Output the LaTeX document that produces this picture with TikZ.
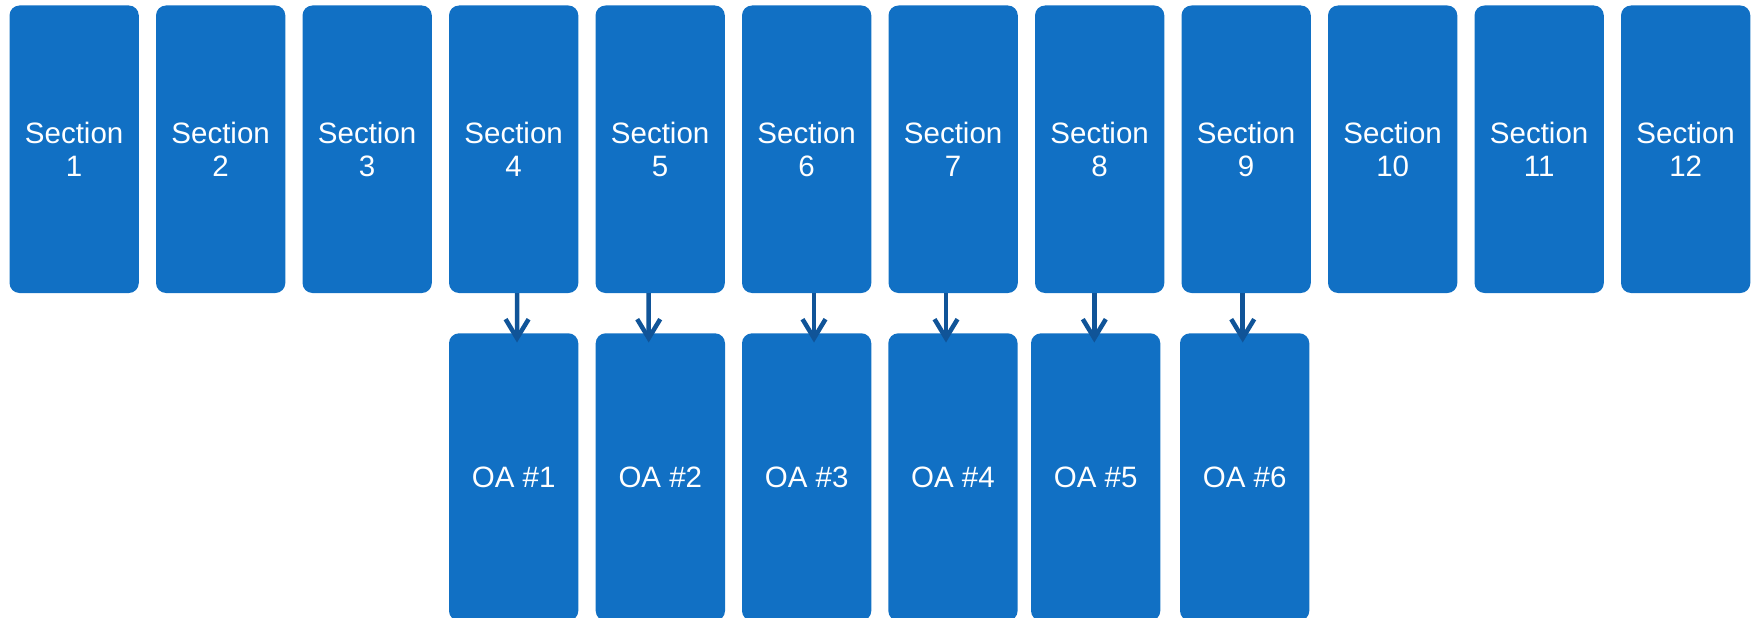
\documentclass[tikz,border=0pt]{standalone}
\usepackage{fontspec}
\setmainfont{Liberation Sans}
\usetikzlibrary{arrows.meta}
\definecolor{boxblue}{RGB}{17,112,196}
\definecolor{arrblue}{RGB}{16,84,152}
\begin{document}
\begin{tikzpicture}[x=1pt,y=-1pt,
  box/.style={rectangle, rounded corners=10pt, fill=boxblue, draw=none,
    minimum width=129.3pt, minimum height=287.5pt, inner sep=0pt,
    text=white, align=center, font=\fontsize{29.5}{33}\selectfont},
  arr/.style={draw=arrblue, line width=4.5pt, line join=miter,
    -{Straight Barb[length=19pt, width=23pt, line join=miter]}}]
\useasboundingbox (0,0) rectangle (1754,618);
\clip (0,0) rectangle (1754,618);
\foreach \i in {1,...,12}
  \node[box] (s\i) at ({9.5+(\i-1)*146.5+64.65}, 149.25) {Section\\\i};
\foreach \j/\x in {1/513.65, 2/660.35, 3/806.65, 4/952.95, 5/1095.65, 6/1244.65}
  \node[box] (oa\j) at (\x, 477.05) {OA \#\j};
\foreach \s/\o/\a/\b in {4/1/3.5/3.35, 5/2/-11.45/-11.65, 6/3/7.35/7.35, 7/4/-7.15/-6.95, 8/5/-5.35/-1.35, 9/6/-3.45/-1.95}
  \draw[arr] ([xshift=\a pt]s\s.south) -- ([xshift=\b pt, yshift=-9.4pt]oa\o.north);
\end{tikzpicture}
\end{document}
